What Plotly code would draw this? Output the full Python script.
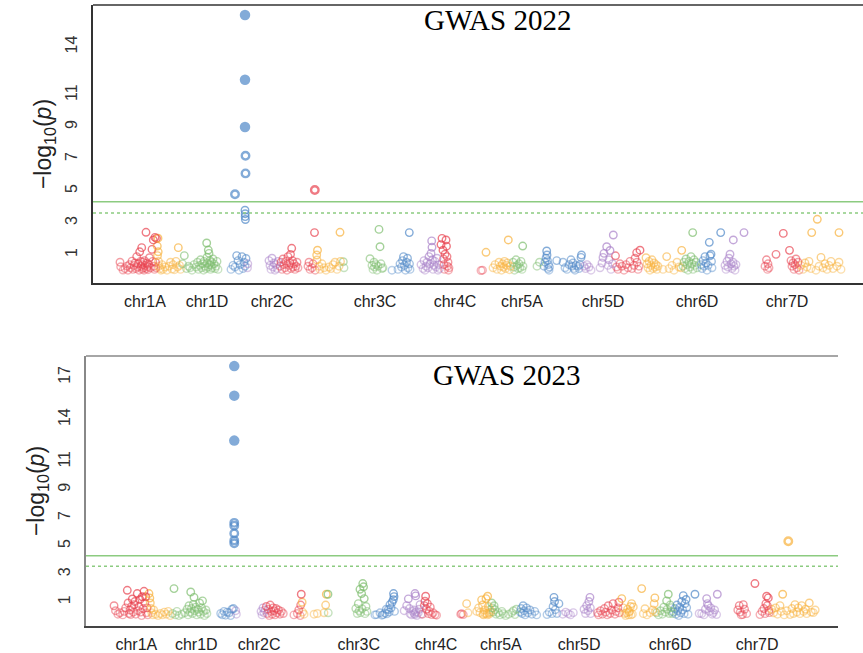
import plotly.graph_objects as go
import bisect

# ---------------- data ----------------
chrom_names = ["chr1A", "chr1C", "chr1D", "chr2A", "chr2C", "chr2D", "chr3A", "chr3C", "chr3D",
               "chr4A", "chr4C", "chr4D", "chr5A", "chr5C", "chr5D", "chr6A", "chr6C", "chr6D",
               "chr7A", "chr7C", "chr7D", "Un"]
# cumulative start position of each chromosome (10 Mb units)
chrom_start = [170, 640, 890, 1290, 1540, 1860, 2230, 2500, 2950, 3250, 3470, 3910, 4190, 4480,
               4900, 5220, 5520, 5890, 6072, 6310, 6590, 7070]
chrom_colors = ["#E8414E", "#F8B13A", "#7DBD6E", "#4E87C7", "#A982C9"]

label_text = ["chr1A", "chr1D", "chr2C", "chr3C", "chr4C", "chr5A", "chr5D", "chr6D", "chr7D"]
label_pos = [520, 1140, 1790, 2820, 3620, 4290, 5100, 6040, 6940]

yticks_2022 = [1, 3, 5, 7, 9, 11, 14]
yticks_2023 = [1, 3, 5, 7, 9, 11, 14, 17]
threshold_2022 = [4.33, 3.62]
threshold_2023 = [4.30, 3.56]

# (cumulative position, -log10 p)
snps_2022 = [
    # chr1A
    (270, 0.55), (277, 0.27), (300, 0.06), (320, 0.15), (340, 0.30), (350, 0.05), (365, 0.40), (375, 0.20),
    (390, 0.62), (400, 0.10), (410, 0.35), (420, 0.50), (430, 0.15), (437, 0.90), (445, 0.25), (452, 0.45),
    (460, 0.05), (467, 1.20), (475, 0.60), (480, 0.30), (487, 1.46), (490, 0.12), (495, 0.40), (500, 0.55),
    (505, 0.20), (510, 0.05), (515, 0.65), (520, 0.35), (530, 2.42), (535, 0.15), (540, 0.50), (545, 0.28),
    (550, 0.08), (555, 0.42), (565, 0.83), (575, 0.20), (590, 1.35), (597, 0.60), (603, 1.94), (610, 0.30),
    (615, 0.10), (620, 2.10), (625, 0.55), (630, 0.20), (635, 2.04),
    # chr1C
    (643, 1.56), (645, 0.96), (650, 2.05), (652, 1.20), (655, 0.60), (660, 0.30), (670, 0.15), (680, 0.05),
    (690, 0.40), (700, 0.10), (720, 0.25), (740, 0.05), (760, 0.30), (775, 0.55), (790, 0.12), (800, 0.40),
    (815, 0.08), (830, 0.60), (845, 0.25), (853, 1.46), (865, 0.35), (875, 0.10),
    # chr1D
    (895, 0.45), (913, 0.96), (935, 0.15), (955, 0.30), (970, 0.20), (990, 0.05), (1010, 0.40), (1030, 0.25),
    (1045, 0.55), (1055, 0.10), (1065, 0.35), (1075, 0.70), (1085, 0.20), (1095, 0.45), (1105, 0.05),
    (1110, 0.60), (1120, 0.30), (1130, 0.15), (1137, 1.75), (1140, 0.85), (1145, 0.50), (1150, 0.25),
    (1153, 1.31), (1160, 1.10), (1165, 0.40), (1170, 0.65), (1175, 0.10), (1180, 0.35), (1185, 0.55),
    (1190, 0.20), (1200, 0.75), (1210, 0.45), (1220, 0.15), (1230, 0.30), (1240, 0.60), (1250, 0.10),
    # chr2A
    (1380, 0.10), (1400, 0.35), (1420, 0.25), (1420, 4.80), (1437, 0.96), (1450, 0.65), (1460, 0.05),
    (1470, 0.40), (1490, 0.90), (1500, 0.15), (1510, 0.55), (1520, 0.30), (1530, 0.78),
    (1520, 3.80), (1522, 3.58), (1522, 3.40), (1524, 3.22), (1525, 6.10), (1525, 7.20),
    (1520, 9.00), (1520, 11.95), (1520, 16.00),
    # chr2C
    (1545, 0.20), (1548, 0.45), (1760, 0.65), (1770, 0.35), (1780, 0.10), (1790, 0.80), (1800, 0.25),
    (1810, 0.50), (1820, 0.05), (1830, 0.40), (1840, 0.15), (1850, 0.60),
    # chr2D
    (1870, 0.30), (1880, 0.55), (1890, 0.10), (1900, 0.75), (1910, 0.40), (1920, 0.20), (1930, 0.60),
    (1940, 0.05), (1950, 0.90), (1960, 0.35), (1970, 0.50), (1975, 1.04), (1980, 0.15), (1987, 1.42),
    (1995, 0.65), (2000, 0.25), (2010, 0.45), (2020, 0.10), (2030, 0.30), (2040, 0.55), (2050, 0.20),
    (2150, 0.30), (2160, 0.55), (2170, 0.10), (2190, 0.20), (2200, 0.45), (2215, 2.40), (2218, 5.06),
    (2222, 0.05),
    # chr3A
    (2237, 1.00), (2240, 0.69), (2245, 1.30), (2260, 0.30), (2270, 0.10), (2290, 0.45), (2310, 0.20),
    (2330, 0.05), (2360, 0.25), (2380, 0.15), (2400, 0.40), (2420, 0.55), (2440, 0.10), (2460, 0.30),
    (2470, 2.42), (2475, 0.60),
    # chr3C
    (2503, 0.58), (2510, 0.20), (2770, 0.77), (2790, 0.35), (2800, 0.10), (2810, 0.55), (2815, 0.25),
    (2830, 0.40), (2840, 0.05), (2850, 0.30), (2860, 2.60), (2870, 1.52), (2880, 0.45), (2890, 0.15),
    (2900, 0.20),
    # chr3D
    (2990, 0.05), (3050, 0.10), (3070, 0.45), (3085, 0.25), (3095, 0.65), (3105, 0.90), (3115, 0.35),
    (3125, 0.05), (3135, 0.55), (3145, 0.80), (3150, 0.20), (3163, 2.40), (3165, 0.45), (3170, 0.10),
    # chr4A
    (3280, 0.40), (3300, 0.15), (3310, 0.65), (3320, 0.05), (3330, 0.30), (3340, 0.55), (3350, 0.20),
    (3360, 0.90), (3370, 0.45), (3380, 1.10), (3387, 1.88), (3390, 1.48), (3395, 0.70), (3400, 0.10),
    (3410, 0.35), (3420, 0.60), (3430, 0.25), (3440, 0.80), (3450, 0.05), (3460, 0.40), (3465, 0.15),
    # chr4C
    (3480, 1.65), (3490, 2.04), (3500, 1.30), (3505, 0.75), (3510, 0.40), (3515, 0.10), (3520, 1.05),
    (3530, 1.94), (3535, 1.55), (3540, 0.90), (3545, 0.30), (3550, 0.55), (3555, 0.05), (3560, 0.20),
    (3880, 0.03), (3895, 0.05),
    # chr4D
    (3930, 1.17), (4000, 0.20), (4020, 0.40), (4040, 0.10), (4060, 0.55), (4075, 0.30), (4085, 0.05),
    (4095, 0.45), (4105, 0.25), (4115, 0.60), (4125, 0.15), (4135, 0.35), (4145, 0.50), (4153, 1.94),
    (4165, 0.08), (4175, 0.30),
    # chr5A
    (4200, 0.55), (4210, 0.25), (4215, 0.05), (4230, 0.70), (4240, 0.35), (4250, 0.15), (4260, 0.45),
    (4270, 0.20), (4280, 0.60), (4290, 0.10), (4297, 1.56), (4300, 0.30), (4440, 0.30), (4465, 0.55),
    # chr5C
    (4510, 0.30), (4520, 0.55), (4530, 0.80), (4537, 1.25), (4540, 1.00), (4545, 0.65), (4550, 0.15),
    (4555, 0.40), (4560, 0.05), (4565, 0.25), (4637, 0.65), (4700, 0.55), (4720, 0.20), (4740, 0.10),
    (4760, 0.40), (4780, 0.70), (4790, 0.30), (4800, 0.50), (4810, 0.15), (4820, 0.05), (4830, 0.35),
    (4850, 0.30), (4860, 0.15), (4870, 0.40), (4880, 0.85), (4885, 1.00),
    # chr5D
    (4910, 0.30), (4925, 0.15), (4940, 0.40), (4960, 0.25), (4980, 0.05), (5070, 0.20), (5090, 0.50),
    (5100, 0.85), (5110, 1.10), (5137, 1.52), (5150, 0.35), (5160, 0.70), (5170, 1.28), (5180, 0.10),
    (5195, 0.45), (5203, 2.25),
    # chr6A
    (5225, 0.95), (5235, 0.25), (5250, 0.10), (5270, 0.45), (5290, 0.30), (5310, 0.05), (5330, 0.40),
    (5350, 0.20), (5370, 0.60), (5390, 0.15), (5410, 0.35), (5420, 0.80), (5437, 1.15), (5440, 0.55),
    (5450, 0.10), (5460, 0.30), (5470, 1.30),
    # chr6C
    (5530, 0.83), (5540, 0.45), (5550, 0.20), (5560, 0.60), (5570, 0.05), (5580, 0.35), (5590, 0.70),
    (5600, 0.15), (5610, 0.50), (5620, 0.25), (5630, 0.40), (5640, 0.10), (5650, 0.30), (5700, 0.10),
    (5737, 0.90), (5760, 0.15), (5790, 0.35), (5810, 0.05), (5840, 0.55), (5860, 0.25), (5880, 0.20),
    (5887, 1.29),
    # chr6D
    (5900, 0.30), (5910, 0.55), (5920, 0.15), (5930, 0.75), (5940, 0.40), (5950, 0.05), (5960, 0.60),
    (5970, 0.25), (5980, 0.90), (5990, 0.45), (5997, 2.40), (6000, 0.10), (6010, 0.70), (6020, 0.35),
    (6030, 0.55), (6040, 0.20),
    # chr7A
    (6080, 0.40), (6090, 0.15), (6100, 0.65), (6110, 0.30), (6120, 0.90), (6130, 0.50), (6140, 0.05),
    (6150, 0.35), (6163, 1.79), (6170, 0.95), (6180, 1.05), (6185, 0.60), (6190, 0.20), (6277, 2.40),
    # chr7C
    (6320, 0.35), (6330, 0.10), (6340, 0.60), (6350, 0.25), (6360, 0.80), (6370, 1.05), (6380, 0.45),
    (6390, 0.15), (6400, 0.55), (6403, 1.94), (6410, 0.30), (6420, 0.05), (6430, 0.40), (6510, 2.40),
    # chr7D
    (6720, 0.30), (6735, 0.70), (6745, 0.10), (6750, 0.45), (6760, 0.20), (6830, 1.04), (6903, 2.35),
    (6965, 1.29), (6980, 0.65), (6990, 0.30), (7000, 0.50), (7010, 0.10), (7020, 0.40), (7030, 0.75),
    (7040, 0.20), (7050, 0.55), (7060, 0.05),
    # unanchored
    (7080, 0.35), (7100, 0.10), (7120, 0.50), (7140, 0.25), (7160, 0.60), (7180, 0.15), (7187, 2.40),
    (7230, 0.05), (7243, 3.23), (7260, 0.30), (7280, 0.85), (7300, 0.20), (7320, 0.45), (7340, 0.10),
    (7360, 0.35), (7380, 0.60), (7400, 0.15), (7440, 0.30), (7460, 0.55), (7460, 2.40), (7480, 0.10),
]

snps_2023 = [
    # chr1A
    (290, 0.75), (305, 0.40), (330, 0.15), (350, 0.25), (380, 0.10), (395, 0.35), (410, 0.60), (427, 1.85),
    (435, 0.95), (445, 0.20), (455, 0.45), (462, 0.12), (470, 0.70), (479, 1.23), (490, 0.30), (496, 0.83),
    (505, 1.05), (515, 0.15), (530, 1.62), (540, 0.40), (548, 0.71), (558, 1.20), (566, 0.30), (575, 0.05),
    (582, 1.39), (590, 0.55), (600, 1.78), (608, 0.95), (617, 1.39), (625, 0.25), (632, 0.60), (638, 0.10),
    # chr1C
    (651, 1.62), (660, 1.30), (665, 0.95), (672, 0.55), (680, 0.25), (690, 0.10), (700, 0.45), (720, 0.15),
    (745, 0.05), (770, 0.20), (790, 0.10), (810, 0.30), (830, 0.15), (850, 0.35), (870, 0.05),
    # chr1D
    (895, 0.20), (910, 1.97), (925, 0.10), (940, 0.35), (960, 0.05), (990, 0.15), (1020, 0.25), (1045, 0.50),
    (1055, 0.10), (1065, 0.75), (1075, 0.30), (1083, 1.73), (1090, 0.55), (1100, 0.20), (1110, 0.85),
    (1117, 1.35), (1125, 0.40), (1135, 0.65), (1145, 0.10), (1155, 0.50), (1165, 0.30), (1175, 0.95),
    (1185, 0.15), (1195, 0.60), (1205, 1.10), (1215, 0.35), (1225, 0.05), (1240, 0.45), (1250, 0.20),
    # chr2A
    (1393, 0.20), (1410, 0.10), (1427, 0.35), (1444, 0.08), (1460, 0.30), (1479, 0.25), (1496, 0.05),
    (1510, 0.50), (1525, 0.55), (1533, 5.20), (1533, 5.40), (1533, 5.90), (1533, 6.45), (1533, 6.65),
    (1533, 12.50), (1533, 15.70), (1533, 17.80),
    # chr2C
    (1548, 0.40), (1555, 0.15), (1810, 0.35), (1820, 0.10), (1830, 0.60), (1840, 0.25), (1850, 0.45),
    # chr2D
    (1865, 0.70), (1875, 0.20), (1885, 0.50), (1895, 0.05), (1905, 0.80), (1915, 0.35), (1925, 0.15),
    (1935, 0.60), (1945, 0.40), (1955, 0.10), (1965, 0.55), (1975, 0.25), (1990, 0.45), (2005, 0.15),
    (2020, 0.35), (2040, 0.20), (2150, 0.10), (2185, 0.20), (2200, 0.45), (2215, 0.05), (2220, 0.80),
    (2226, 1.57),
    # chr3A
    (2235, 1.00), (2240, 0.30), (2255, 0.15), (2358, 0.15), (2392, 0.20), (2461, 0.25), (2478, 0.80),
    (2485, 1.57),
    # chr3C
    (2502, 1.57), (2505, 0.25), (2790, 0.55), (2805, 0.20), (2816, 0.90), (2825, 0.40), (2833, 1.92),
    (2840, 0.26), (2850, 1.62), (2855, 0.54), (2862, 2.33), (2870, 2.10), (2877, 1.26), (2885, 0.19),
    (2895, 0.70), (2905, 0.35),
    # chr3D
    (2988, 0.10), (3005, 0.12), (3040, 0.25), (3060, 0.08), (3074, 0.12), (3092, 0.24), (3105, 0.50),
    (3110, 0.17), (3126, 0.47), (3135, 0.30), (3143, 0.83), (3155, 0.60), (3165, 1.00), (3178, 1.19),
    (3180, 1.62), (3185, 1.40), (3190, 0.35),
    # chr4A
    (3290, 0.40), (3316, 0.76), (3333, 1.24), (3345, 0.55), (3350, 0.19), (3365, 0.10), (3380, 0.35),
    (3390, 0.45), (3395, 0.20), (3400, 0.12), (3402, 1.62), (3409, 1.45), (3410, 0.30), (3420, 0.05),
    (3436, 0.26), (3445, 0.50), (3454, 0.83), (3465, 0.15),
    # chr4C
    (3480, 0.15), (3498, 0.76), (3505, 1.07), (3512, 1.43), (3520, 0.50), (3530, 0.90), (3540, 0.19),
    (3550, 0.35), (3560, 0.65), (3574, 0.12), (3590, 0.25), (3609, 0.12), (3625, 0.08), (3875, 0.15),
    (3885, 0.19), (3901, 0.12),
    # chr4D
    (3936, 0.90), (3950, 0.25), (4040, 0.35), (4060, 0.60), (4074, 0.26), (4091, 1.17), (4100, 0.80),
    (4105, 0.15), (4110, 0.10), (4120, 0.45), (4125, 0.20), (4136, 1.26), (4143, 0.19), (4150, 0.10),
    (4153, 1.43), (4160, 0.70), (4165, 0.25), (4170, 0.15), (4177, 0.47), (4185, 0.30),
    # chr5A
    (4195, 0.95), (4201, 0.60), (4210, 0.30), (4220, 0.75), (4229, 0.47), (4240, 0.15), (4263, 0.26),
    (4280, 0.10), (4300, 0.35), (4315, 0.19), (4340, 0.05), (4370, 0.15), (4402, 0.26), (4420, 0.40),
    (4436, 0.12), (4450, 0.50),
    # chr5C
    (4490, 0.30), (4500, 0.55), (4510, 0.20), (4520, 0.75), (4530, 0.40), (4540, 0.10), (4555, 0.60),
    (4570, 0.25), (4590, 0.45), (4610, 0.15), (4640, 0.35), (4660, 0.10), (4767, 0.12), (4790, 0.30),
    (4819, 0.19), (4830, 0.70), (4839, 1.35), (4845, 1.05), (4853, 0.47), (4870, 0.20), (4890, 0.90),
    # chr5D
    (4930, 0.15), (4960, 0.30), (4987, 0.19), (5010, 0.10), (5039, 0.26), (5150, 0.50), (5165, 0.20),
    (5177, 0.76), (5190, 0.40), (5200, 1.05), (5211, 1.35), (5215, 0.60), (5218, 0.19),
    # chr6A
    (5290, 0.25), (5300, 0.10), (5320, 0.40), (5340, 0.15), (5360, 0.55), (5375, 0.30), (5390, 0.10),
    (5400, 0.75), (5420, 0.20), (5435, 0.45), (5450, 0.90), (5470, 0.15), (5480, 0.35), (5500, 0.60),
    (5510, 1.00), (5515, 0.25),
    # chr6C
    (5540, 1.26), (5555, 0.60), (5570, 0.20), (5580, 0.05), (5590, 0.26), (5600, 0.50), (5610, 0.10),
    (5615, 0.30), (5620, 0.35), (5630, 0.70), (5635, 0.10), (5642, 0.90), (5650, 0.15), (5659, 0.67),
    (5746, 1.97), (5763, 0.19), (5780, 0.54), (5800, 0.10), (5832, 0.26), (5860, 0.45), (5875, 0.90),
    (5882, 1.31), (5885, 0.31),
    # chr6D
    (5900, 0.25), (5920, 0.10), (5940, 0.40), (5960, 0.15), (5975, 0.65), (5990, 0.30), (6004, 1.10),
    (6010, 0.50), (6021, 1.57), (6030, 0.20), (6040, 0.80), (6050, 0.35), (6056, 0.62), (6065, 0.19),
    # chr7A
    (6075, 0.30), (6090, 0.55), (6100, 0.15), (6110, 0.80), (6120, 0.40), (6130, 0.05), (6140, 0.65),
    (6150, 0.25), (6160, 1.05), (6170, 0.45), (6176, 1.47), (6185, 0.19), (6194, 0.90), (6205, 1.20),
    (6211, 0.62), (6225, 0.15), (6297, 1.57),
    # chr7C
    (6340, 0.20), (6366, 0.19), (6390, 0.10), (6405, 0.50), (6418, 1.26), (6425, 0.90), (6435, 0.76),
    (6445, 0.35), (6460, 0.60), (6475, 0.15), (6486, 0.26), (6500, 0.45), (6521, 0.12), (6528, 1.57),
    # chr7D
    (6740, 0.45), (6755, 0.76), (6765, 0.30), (6775, 0.10), (6790, 0.12), (6797, 0.83), (6810, 0.50),
    (6831, 0.19), (6917, 2.33), (6969, 0.12), (6990, 0.35), (7010, 0.55), (7021, 0.19), (7030, 0.90),
    (7038, 1.43), (7045, 0.76), (7055, 1.31), (7060, 0.40), (7065, 0.26),
    # unanchored
    (7090, 0.50), (7110, 0.25), (7130, 0.60), (7150, 0.15), (7176, 0.76), (7190, 0.35), (7204, 1.57),
    (7220, 0.10), (7245, 0.40), (7262, 5.34), (7280, 0.12), (7300, 0.55), (7315, 0.20), (7331, 0.83),
    (7350, 0.30), (7365, 0.60), (7383, 0.19), (7400, 0.76), (7420, 0.35), (7440, 0.50), (7452, 0.19),
    (7479, 0.95), (7500, 0.30), (7521, 0.26), (7540, 0.45),
]


# ---------------- helpers ----------------
def hex_rgba(h, a):
    h = h.lstrip("#")
    r, g, b = int(h[0:2], 16), int(h[2:4], 16), int(h[4:6], 16)
    return f"rgba({r},{g},{b},{a:.2f})"


def make_trace(snps, thr, xa, ya):
    xs, ys, cols, syms, sizes, lws = [], [], [], [], [], []
    for pos, lp in sorted(snps, key=lambda t: t[1]):
        ci = bisect.bisect_right(chrom_start, pos) - 1
        base = chrom_colors[ci % len(chrom_colors)]
        alpha = min(1.0, 0.55 + 0.35 * lp)
        xs.append(pos)
        ys.append(lp)
        cols.append(hex_rgba(base, alpha))
        if lp > 8:
            syms.append("circle")
            sizes.append(10.5)
            lws.append(0)
        elif lp > thr:
            syms.append("circle-open")
            sizes.append(7.5)
            lws.append(2.4)
        else:
            syms.append("circle-open")
            sizes.append(7.5)
            lws.append(1.4)
    return go.Scatter(
        x=xs, y=ys, mode="markers", xaxis=xa, yaxis=ya, showlegend=False, hoverinfo="skip",
        marker=dict(color=cols, symbol=syms, size=sizes, line=dict(width=lws, color=cols)),
    )


fig = go.Figure()
fig.add_trace(make_trace(snps_2022, threshold_2022[0], "x", "y"))
fig.add_trace(make_trace(snps_2023, threshold_2023[0], "x2", "y2"))

W, H = 863, 653
font_sans = "Liberation Sans, Arial, sans-serif"
ytitle = "\u2212log<sub>10</sub>(<i>p</i>)"

common_x = dict(showgrid=False, zeroline=False, showline=True, ticks="",
                tickmode="array", tickvals=label_pos, ticktext=label_text, ticklabelstandoff=3,
                tickfont=dict(family=font_sans, size=16, color="#222"))
common_y = dict(showgrid=False, zeroline=False, showline=True, ticks="", tickangle=-90,
                tickmode="array", tickfont=dict(family=font_sans, size=16, color="#333"),
                ticklabelstandoff=8,
                title=dict(text=ytitle, standoff=5, font=dict(family=font_sans, size=23, color="#222")))

fig.update_layout(
    width=W, height=H, margin=dict(l=0, r=0, t=0, b=0),
    paper_bgcolor="white", plot_bgcolor="white",
    xaxis=dict(domain=[93 / W, 1.0], range=[0, 7700], anchor="y",
               linecolor="#333", linewidth=1.5, **common_x),
    yaxis=dict(domain=[1 - 283 / H, 1 - 5 / H], range=[-0.75, 16.625], anchor="x",
               tickvals=yticks_2022, linecolor="#333", linewidth=1.5, **common_y),
    xaxis2=dict(domain=[86 / W, 838 / W], range=[0, 7776], anchor="y2",
                linecolor="#444", linewidth=1.5, **common_x),
    yaxis2=dict(domain=[1 - 626 / H, 1 - 356 / H], range=[-0.69, 18.52], anchor="x2",
                tickvals=yticks_2023, linecolor="#888", linewidth=1.5, **common_y),
)

# top frame lines
fig.add_shape(type="line", xref="x domain", yref="y domain", x0=0, x1=1, y0=1, y1=1,
              line=dict(color="#333", width=1.5))
fig.add_shape(type="line", xref="x2 domain", yref="y2 domain", x0=0, x1=1, y0=1, y1=1,
              line=dict(color="#888", width=1.5))

# threshold lines
for thr, xr, yr in [(threshold_2022, "x domain", "y"), (threshold_2023, "x2 domain", "y2")]:
    fig.add_shape(type="line", xref=xr, yref=yr, x0=0, x1=1, y0=thr[0], y1=thr[0],
                  line=dict(color="#8CCB80", width=1.5))
    fig.add_shape(type="line", xref=xr, yref=yr, x0=0, x1=1, y0=thr[1], y1=thr[1],
                  line=dict(color="#8CCB80", width=1.5, dash="dot"))

# titles
serif = "Liberation Serif, Times New Roman, serif"
fig.add_annotation(text="GWAS 2022", xref="paper", yref="paper", x=498 / W, y=1 - 20 / H,
                   xanchor="center", yanchor="middle",
                   showarrow=False, font=dict(family=serif, size=29, color="black"))
fig.add_annotation(text="GWAS 2023", xref="paper", yref="paper", x=506 / W, y=1 - 375 / H,
                   xanchor="center", yanchor="middle",
                   showarrow=False, font=dict(family=serif, size=29, color="black"))

fig.write_html("out.html", config={"displayModeBar": False},
               post_script="document.body.style.margin='0';document.body.style.overflow='hidden';")
